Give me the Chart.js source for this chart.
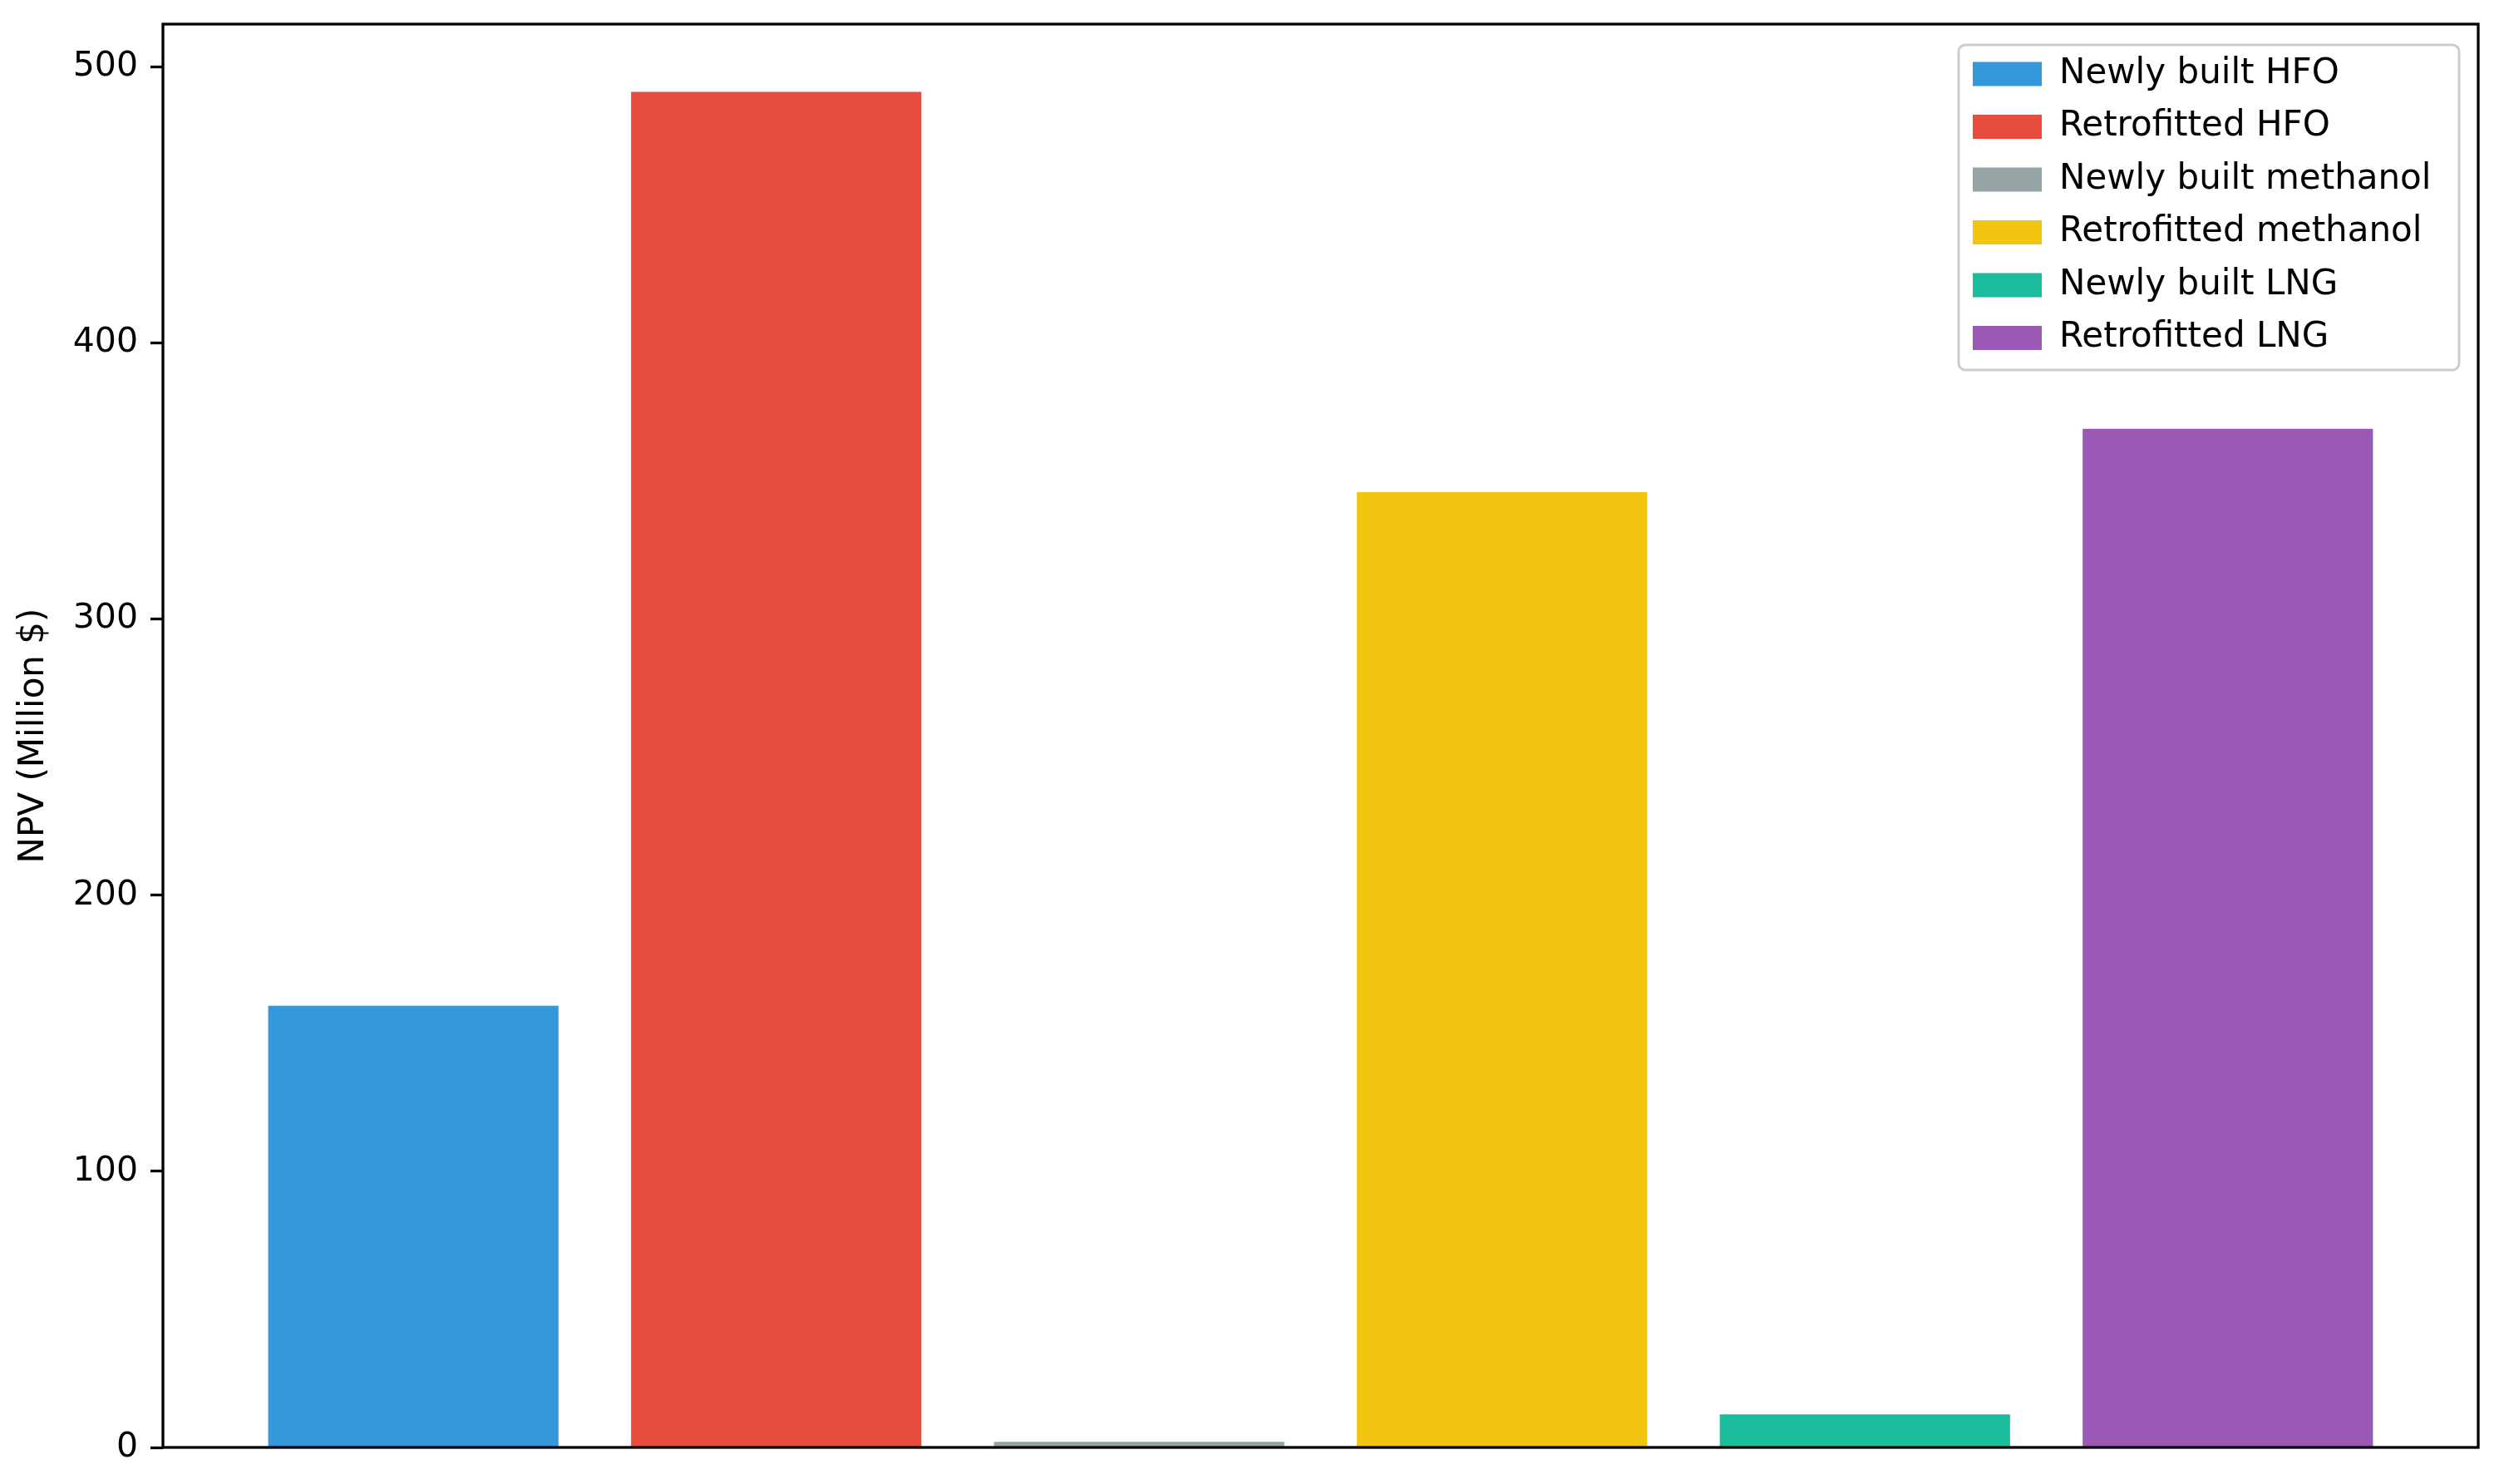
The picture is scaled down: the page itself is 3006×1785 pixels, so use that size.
<!DOCTYPE html>
<html>
<head>
<meta charset="utf-8">
<script src="https://cdn.jsdelivr.net/npm/chart.js@4/dist/chart.umd.min.js"></script>
<style>
  html, body { margin: 0; padding: 0; background: #fff; }
  canvas { display: block; }
</style>
</head>
<body>
<canvas id="npvChart" width="3006" height="1785"></canvas>
<script>
// Data
const categories = ["Newly built HFO", "Retrofitted HFO", "Newly built methanol",
                    "Retrofitted methanol", "Newly built LNG", "Retrofitted LNG"];
const npvValues = [160, 491, 2, 346, 12, 369];
const barColors = ["#3498db", "#e74c3c", "#95a5a6", "#f1c40f", "#1abc9c", "#9b59b6"];
const yTicks = [0, 100, 200, 300, 400, 500];
const yTitle = "NPV (Million $)";

const FONT = "'DejaVu Sans', sans-serif";

// matplotlib-like autoscale: 5% margin on x around the bars, 5% on top for y
const barWidth = 0.8;
const xPositions = categories.map((c, i) => i);
const xSpan = (categories.length - 1) + barWidth;
const xMin = -barWidth / 2 - 0.05 * xSpan;
const xMax = categories.length - 1 + barWidth / 2 + 0.05 * xSpan;
const yMax = Math.max(...npvValues) * 1.05;

// Legend box drawn inside the axes, top right (like matplotlib)
const legendInside = {
    id: "legendInside",
    beforeDraw(chart) {
        const lg = chart.legend;
        const a = chart.chartArea;
        const ctx = chart.ctx;
        const pad = lg.options.labels.padding;

        const frameRight = a.right - 23;
        const frameLeft = a.right - 625;
        const frameTop = a.top + 25;
        const frameH = 391;

        lg.left = frameLeft + 17 - pad;
        lg.right = frameRight;
        lg.top = a.top + 39 - pad;

        ctx.save();
        ctx.beginPath();
        ctx.roundRect(frameLeft, frameTop, frameRight - frameLeft, frameH, 8);
        ctx.fillStyle = "rgba(255,255,255,0.8)";
        ctx.fill();
        ctx.lineWidth = 3;
        ctx.strokeStyle = "#cccccc";
        ctx.stroke();
        ctx.restore();
    }
};

// Axes frame (spines), drawn over the bars
const axesFrame = {
    id: "axesFrame",
    afterDatasetsDraw(chart) {
        const a = chart.chartArea;
        const ctx = chart.ctx;
        ctx.save();
        ctx.lineWidth = 3.3;
        ctx.strokeStyle = "#000";
        ctx.strokeRect(a.left, a.top, a.right - a.left, a.bottom - a.top);
        ctx.restore();
    }
};

const ctx = document.getElementById("npvChart").getContext("2d");
new Chart(ctx, {
    type: "bar",
    data: {
        datasets: [
            {
                label: yTitle,
                data: npvValues.map((v, i) => ({ x: xPositions[i], y: v })),
                backgroundColor: barColors,
                borderWidth: 0,
                categoryPercentage: barWidth,
                barPercentage: 1.0,
            },
        ],
    },
    options: {
        responsive: false,
        animation: false,
        devicePixelRatio: 1,
        layout: { padding: { top: 29, right: 25, bottom: 44, left: 0 } },
        plugins: {
            tooltip: { enabled: false },
            legend: {
                position: "chartArea",
                align: "start",
                labels: {
                    font: { family: FONT, size: 42 },
                    color: "#000",
                    boxWidth: 83,
                    boxHeight: 29,
                    padding: 21.5,
                    generateLabels: () =>
                        categories.map((name, i) => ({
                            text: name,
                            fillStyle: barColors[i],
                            strokeStyle: barColors[i],
                            lineWidth: 0,
                            hidden: false,
                            datasetIndex: 0,
                            index: i,
                        })),
                },
            },
        },
        scales: {
            x: {
                type: "linear",
                display: false,
                offset: false,
                min: xMin,
                max: xMax,
                afterBuildTicks: (scale) => { scale.ticks = xPositions.map((v) => ({ value: v })); },
            },
            y: {
                min: 0,
                max: yMax,
                afterFit: (scale) => {
                    scale.width = 196;
                    scale.paddingTop = 0;
                    scale.paddingBottom = 0;
                },
                afterBuildTicks: (scale) => { scale.ticks = yTicks.map((v) => ({ value: v })); },
                ticks: {
                    includeBounds: false,
                    font: { family: FONT, size: 41 },
                    color: "#000",
                    padding: 15,
                },
                grid: {
                    drawOnChartArea: false,
                    drawTicks: true,
                    tickLength: 15,
                    tickWidth: 3.3,
                    tickColor: "#000",
                },
                border: { display: false },
                title: {
                    display: true,
                    text: yTitle,
                    font: { family: FONT, size: 42, lineHeight: 1.2 },
                    color: "#000",
                    padding: { top: 16, bottom: 0 },
                },
            },
        },
    },
    plugins: [legendInside, axesFrame],
});
</script>
</body>
</html>
